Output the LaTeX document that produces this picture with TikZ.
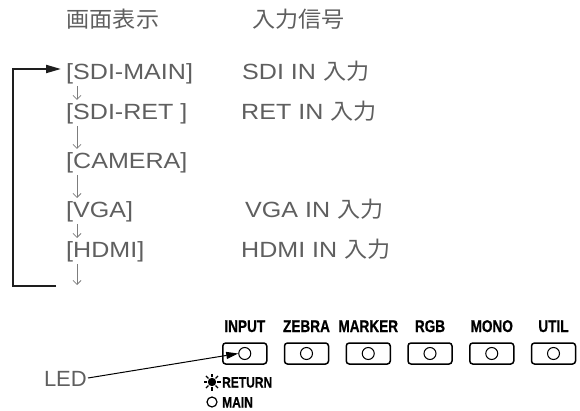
\documentclass[tikz,border=0pt]{standalone}
\usepackage{fontspec}
\setmainfont{Liberation Sans}[FakeStretch=1.14]
\newfontfamily\jp{Noto Sans CJK JP}[FakeStretch=1.05]
\newfontfamily\cond{Liberation Sans}[FakeStretch=0.8, BoldFeatures={FakeBold=0.6}]
\newfontfamily\legendfont{Liberation Sans}[FakeStretch=1.0]
\usetikzlibrary{arrows.meta,calc}
\definecolor{txtgray}{RGB}{95,95,95}
\definecolor{arrgray}{RGB}{125,125,125}
\definecolor{loopblack}{RGB}{30,30,30}
\begin{document}
\begin{tikzpicture}[x=1pt,y=-1pt,
  txt/.style={text=txtgray, font=\fontsize{22}{26}\selectfont, inner sep=0pt, anchor=base west},
  hdr/.style={text=txtgray, font=\jp\fontsize{22}{26}\selectfont, inner sep=0pt, anchor=base west},
  btnlbl/.style={font=\cond\bfseries\fontsize{17}{19}\selectfont, inner sep=0pt, anchor=base},
  smalllbl/.style={font=\cond\bfseries\fontsize{15}{17}\selectfont, inner sep=0pt, anchor=base west},
  btn/.style={draw, line width=1.5pt, rounded corners=3pt, minimum width=44pt, minimum height=21pt, inner sep=0pt},
  ledc/.style={draw, circle, line width=1pt, minimum size=12pt, inner sep=0pt},
  flow/.style={draw=arrgray, line width=0.8pt, -{Straight Barb[length=4pt,width=8pt]}},
  loopline/.style={draw=loopblack, line width=2pt, -{Triangle[length=15pt,width=8pt]}},
]
\useasboundingbox (0,0) rectangle (580,411);

% headers
\node[hdr] (h1) at (66.5,28) {画面表示};
\node[hdr] (h2) at (252,28) {入力信号};

% left column
\node[txt] (r1) at (66,80) {[SDI-MAIN]};
\node[txt] (r2) at (66,120) {[SDI-RET ]};
\node[txt] (r3) at (66,169) {[CAMERA]};
\node[txt] (r4) at (66,218) {[VGA]};
\node[txt] (r5) at (66,258) {[HDMI]};

% right column
\node[txt] (s1) at (242,80) {SDI IN {\jp 入力}};
\node[txt] (s2) at (241,120) {RET IN {\jp 入力}};
\node[txt] (s4) at (245,218) {VGA IN {\jp 入力}};
\node[txt] (s5) at (241,258) {HDMI IN {\jp 入力}};

% small down arrows
\coordinate (endarr) at (77,285);
\draw[flow] ($(r1.base west)+(11,6)$) -- ($(r2.base west)+(11,-20)$);
\draw[flow] ($(r2.base west)+(11,6)$) -- ($(r3.base west)+(11,-20)$);
\draw[flow] ($(r3.base west)+(11,6)$) -- ($(r4.base west)+(11,-20)$);
\draw[flow] ($(r4.base west)+(11,6)$) -- ($(r5.base west)+(11,-20)$);
\draw[flow] ($(r5.base west)+(11,6)$) -- (endarr);

% loop back
\coordinate (loopEnd) at (56,286);
\coordinate (loopTip) at (61,69);
\draw[loopline] (loopEnd) -| (13,69) -- (loopTip);

% buttons
\foreach \lab/\bx [count=\i] in {INPUT/244.75, ZEBRA/306.5, MARKER/368.25, RGB/430, MONO/491.75, UTIL/553.5} {
  \node[btn] (b\i) at (\bx,353.5) {};
  \node[ledc] (l\i) at (b\i) {};
  \node[btnlbl] (t\i) at (\bx,332) {\lab};
}

% LED label and arrow
\node[text=txtgray, font=\legendfont\fontsize{22}{26}\selectfont, inner sep=0pt, anchor=base east] (led) at (87,386) {LED};
\draw[line width=1pt, -{Triangle[length=12pt,width=7pt]}] ($(led.base east)+(1,-8)$) -- (l1.west);

% legend
\fill (212,382) circle (4.2pt);
\foreach \a in {0,45,...,315}
  \draw[line width=1.3pt] (212,382) ++(\a:5) -- ++(\a:3.5);
\node[smalllbl] (ret) at (222,387.5) {RETURN};
\node[draw, circle, line width=1.2pt, minimum size=10pt, inner sep=0pt] (mc) at (212,402) {};
\node[smalllbl] (mainl) at (222,407.5) {MAIN};
\end{tikzpicture}
\end{document}
